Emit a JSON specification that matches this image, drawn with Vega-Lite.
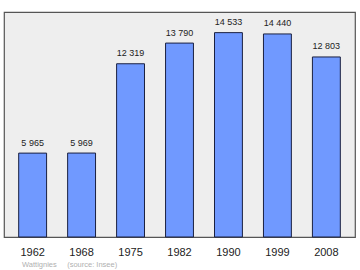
{
  "$schema": "https://vega.github.io/schema/vega-lite/v6.json",
  "width": 351,
  "height": 225,
  "autosize": "none",
  "padding": {"left": 4, "top": 12, "right": 5, "bottom": 33},
  "background": "white",
  "config": {
    "font": "Liberation Sans",
    "view": {"fill": "#eeeeee", "stroke": "#555555", "strokeWidth": 1.2}
  },
  "title": {
    "text": "Wattignies\u00a0\u00a0\u00a0\u00a0\u00a0(source: Insee)",
    "orient": "bottom",
    "anchor": "start",
    "frame": "group",
    "fontSize": 7.5,
    "fontWeight": "normal",
    "color": "#b0b0b0",
    "dx": 18,
    "offset": 4
  },
  "data": {
    "values": [
      {"year": "1962", "pop": 5965, "label": "5 965"},
      {"year": "1968", "pop": 5969, "label": "5 969"},
      {"year": "1975", "pop": 12319, "label": "12 319"},
      {"year": "1982", "pop": 13790, "label": "13 790"},
      {"year": "1990", "pop": 14533, "label": "14 533"},
      {"year": "1999", "pop": 14440, "label": "14 440"},
      {"year": "2008", "pop": 12803, "label": "12 803"}
    ]
  },
  "encoding": {
    "x": {
      "field": "year",
      "type": "nominal",
      "sort": null,
      "scale": {"paddingInner": 0.43, "paddingOuter": 0.3},
      "axis": {
        "title": null,
        "labelAngle": 0,
        "labelFontSize": 11,
        "labelColor": "#222222",
        "labelPadding": 9,
        "domain": false,
        "ticks": false
      }
    },
    "y": {
      "field": "pop",
      "type": "quantitative",
      "scale": {"domain": [0, 16000], "nice": false},
      "axis": null
    }
  },
  "layer": [
    {
      "mark": {"type": "bar", "fill": "#7099ff", "stroke": "#1a2040", "strokeWidth": 1}
    },
    {
      "mark": {"type": "text", "fontSize": 9, "color": "#222222", "baseline": "alphabetic", "dy": -7.5},
      "encoding": {"text": {"field": "label"}}
    }
  ]
}
